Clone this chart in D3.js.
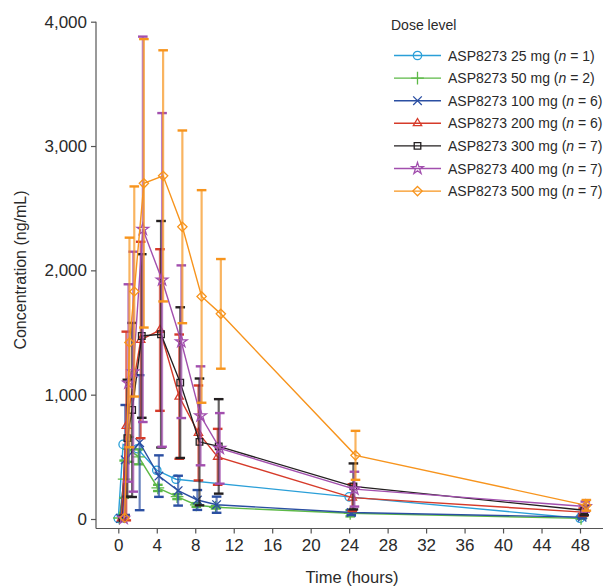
<!DOCTYPE html>
<html>
<head>
<meta charset="utf-8">
<script src="https://cdn.jsdelivr.net/npm/d3@7"></script>
<style>
  html, body { margin: 0; padding: 0; background: #fff; }
  svg { display: block; font-family: "Liberation Sans", Arial, sans-serif; }
</style>
</head>
<body>
<svg id="chart" width="610" height="586"></svg>
<script>
// nominal sampling times (hours)
const times = [0, 0.5, 1, 2, 4, 6, 8, 10, 24, 48];
const xTicks = [0, 4, 8, 12, 16, 20, 24, 28, 32, 36, 40, 44, 48];
const yTicks = [0, 1000, 2000, 3000, 4000];

const doseLabels = ["25", "50", "100", "200", "300", "400", "500"];
const doseN = [1, 2, 6, 6, 7, 7, 7];

// mean concentration (ng/mL), null = no sample
const mean25 = [5, 600, null, 565, 392, 320, null, null, 178, 6];
const mean50 = [8, 320, 560, 500, 250, 180, 113, 94, 46, 5];
const mean100 = [5, 475, null, 614, 345, 228, 153, 115, 52, 15];
const mean200 = [5, 748, null, 1440, 1520, 984, 692, 500, 172, 55];
const mean300 = [5, 650, 877, 1472, 1486, 1097, 620, 584, 262, 70];
const mean400 = [5, 1094, 1185, 2330, 1923, 1426, 830, 568, 240, 100];
const mean500 = [10, 1420, 1830, 2700, 2760, 2350, 1790, 1650, 512, 110];

// standard deviation
const sd25 = [0, 0, null, 0, 0, 0, null, null, 0, 0];
const sd50 = [0, 150, 100, 60, 25, 20, 15, 10, 25, 3];
const sd100 = [0, 442, null, 543, 167, 120, 80, 65, 20, 10];
const sd200 = [0, 759, null, 790, 650, 500, 382, 225, 108, 30];
const sd300 = [0, 470, 700, 658, 911, 606, 510, 380, 185, 40];
const sd400 = [0, 794, 965, 1550, 1342, 614, 398, 284, 140, 40];
const sd500 = [0, 843, 845, 1160, 1010, 775, 855, 441, 197, 43];

const colors = ["#2a9fd8", "#5db947", "#2b4fa2", "#d63b2a", "#231f20", "#a24fae", "#f7941d"];
const symbols = [d3.symbolCircle, d3.symbolPlus, d3.symbolTimes, d3.symbolTriangle2, d3.symbolSquare2, d3.symbolStar, d3.symbolDiamond2];
const symbolSizes = [55, 55, 50, 50, 55, 42, 55];

const means = [mean25, mean50, mean100, mean200, mean300, mean400, mean500];
const sds = [sd25, sd50, sd100, sd200, sd300, sd400, sd500];

const svg = d3.select("#chart");
const x = d3.scaleLinear().domain([0, 48]).range([118.3, 580]);
const y = d3.scaleLinear().domain([0, 4000]).range([519, 21.7]);
const axisX = 96, axisY = 528.5;
const axisColor = "#555";
const textColor = "#2a2a2a";

// axes
svg.append("line").attr("x1", axisX).attr("x2", axisX).attr("y1", y(4000)).attr("y2", axisY)
  .attr("stroke", axisColor).attr("stroke-width", 1.2);
svg.append("line").attr("x1", axisX).attr("x2", 603).attr("y1", axisY).attr("y2", axisY)
  .attr("stroke", axisColor).attr("stroke-width", 1.2);

svg.append("g")
  .attr("transform", `translate(${axisX},0)`)
  .call(d3.axisLeft(y).tickValues(yTicks).tickSize(5).tickSizeOuter(0).tickPadding(4).tickFormat(d3.format(",")))
  .call((g) => g.select(".domain").remove())
  .call((g) => g.selectAll("line").attr("stroke", axisColor).attr("stroke-width", 1.2))
  .call((g) => g.selectAll("text").attr("fill", textColor).style("font-size", "17px").style("font-family", "Liberation Sans, Arial, sans-serif"));

svg.append("g")
  .attr("transform", `translate(0,${axisY})`)
  .call(d3.axisBottom(x).tickValues(xTicks).tickSize(5).tickSizeOuter(0).tickPadding(5))
  .call((g) => g.select(".domain").remove())
  .call((g) => g.selectAll("line").attr("stroke", axisColor).attr("stroke-width", 1.2))
  .call((g) => g.selectAll("text").attr("fill", textColor).style("font-size", "17px").style("font-family", "Liberation Sans, Arial, sans-serif"));

svg.append("text").attr("x", 352).attr("y", 583).attr("text-anchor", "middle")
  .attr("fill", textColor).style("font-size", "16.5px").text("Time (hours)");
svg.append("text").attr("transform", "translate(26,270) rotate(-90)").attr("text-anchor", "middle")
  .attr("fill", textColor).style("font-size", "16px").text("Concentration (ng/mL)");

// series, drawn low dose first so 500 mg ends on top
const plot = svg.append("g");
means.forEach((mean, gi) => {
  const color = colors[gi];
  const dodge = gi * 0.11;
  const pts = times.map((t, i) => ({ t: t + dodge, m: mean[i], s: sds[gi][i] }))
    .filter((p) => p.m !== null);
  const g = plot.append("g");
  // error bars (SD)
  pts.filter((p) => p.s > 0).forEach((p) => {
    const cx = x(p.t);
    g.append("line").attr("x1", cx).attr("x2", cx).attr("y1", y(p.m - p.s)).attr("y2", y(p.m + p.s))
      .attr("stroke", color).attr("stroke-width", 2.2).attr("stroke-opacity", 0.7);
    [p.m - p.s, p.m + p.s].forEach((v) => {
      g.append("line").attr("x1", cx - 4.8).attr("x2", cx + 4.8).attr("y1", y(v)).attr("y2", y(v))
        .attr("stroke", color).attr("stroke-width", 2.4);
    });
  });
  g.append("path").datum(pts)
    .attr("d", d3.line().x((p) => x(p.t)).y((p) => y(p.m)))
    .attr("fill", "none").attr("stroke", color).attr("stroke-width", 1.4);
  g.selectAll("path.mk").data(pts).join("path").attr("class", "mk")
    .attr("transform", (p) => `translate(${x(p.t)},${y(p.m)})`)
    .attr("d", d3.symbol(symbols[gi], symbolSizes[gi]))
    .attr("fill", "none").attr("stroke", color).attr("stroke-width", 1.3);
});

// legend
const legend = svg.append("g");
legend.append("text").attr("x", 391).attr("y", 30).attr("fill", textColor)
  .style("font-size", "14px").text("Dose level");
doseLabels.forEach((d, i) => {
  const ly = 55.5 + i * 22.6;
  legend.append("line").attr("x1", 394).attr("x2", 441).attr("y1", ly).attr("y2", ly)
    .attr("stroke", colors[i]).attr("stroke-width", 1.4);
  legend.append("path").attr("transform", `translate(417.5,${ly})`)
    .attr("d", d3.symbol(symbols[i], symbolSizes[i]))
    .attr("fill", "none").attr("stroke", colors[i]).attr("stroke-width", 1.3);
  const t = legend.append("text").attr("x", 448).attr("y", ly + 5).attr("fill", textColor).style("font-size", "14px");
  t.append("tspan").text(`ASP8273 ${d} mg (`);
  t.append("tspan").attr("font-style", "italic").text("n");
  t.append("tspan").text(` = ${doseN[i]})`);
});
</script>
</body>
</html>
